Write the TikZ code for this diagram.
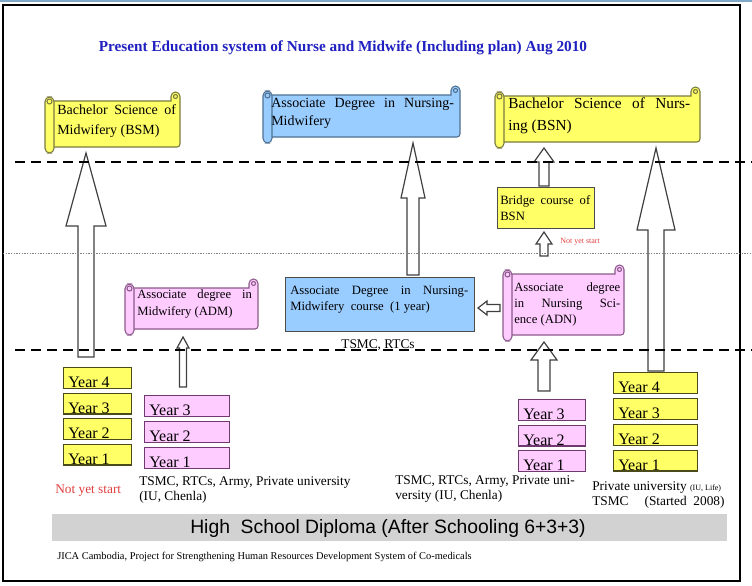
\documentclass[tikz,border=0pt]{standalone}
\usepackage{fontspec}
\setmainfont{Liberation Serif}
\newfontfamily\arialf{Liberation Sans}
\usetikzlibrary{calc}
\definecolor{yf}{HTML}{FFFF66}
\definecolor{yd}{HTML}{7A7A40}
\definecolor{yyd}{HTML}{4A4A1A}
\definecolor{bf}{HTML}{99CCFF}
\definecolor{bd}{HTML}{50708F}
\definecolor{pf}{HTML}{FFCCFF}
\definecolor{pd}{HTML}{8A5A8A}
\definecolor{ppd}{HTML}{703A70}
\definecolor{ttl}{HTML}{2020C0}
\definecolor{nys}{HTML}{E04040}
\definecolor{barg}{HTML}{D2D2D2}
\definecolor{topb}{HTML}{7FA7C7}
\newcommand\scrollshape[5]{%
  \path[#5] (#1+5,#2+9) -- (#3-9,#2+9) -- (#3-9,#2+4.5) arc[start angle=180,end angle=360,radius=4.5] -- (#3,#4-9) arc[start angle=0,end angle=90,radius=3] -- (#1+5,#4-6) -- cycle;
  \path[#5] (#3-4.5,#2+4.5) circle[radius=2];
  \path[#5, rounded corners=3.5pt] (#1,#2+5) rectangle (#1+9,#4);
  \path[#5] (#1+4.5,#2+9.5) circle[radius=2.5];
}
\newcommand\blockup[6]{%
  \path[blk] (#1-#6,#2) -- (#1-#6,#4) -- (#1-#5,#4) -- (#1,#3) -- (#1+#5,#4) -- (#1+#6,#4) -- (#1+#6,#2) -- cycle;
}
\begin{document}
\begin{tikzpicture}[x=0.75pt,y=-0.75pt]
\useasboundingbox (0,0) rectangle (752,585);
\tikzset{
  yscr/.style={fill=yf,draw=yd,line width=0.8pt},
  bscr/.style={fill=bf,draw=bd,line width=0.8pt},
  pscr/.style={fill=pf,draw=pd,line width=0.8pt},
  yyear/.style={fill=yf,draw=yyd,line width=1.1pt,minimum height=15.4pt,inner sep=0pt,anchor=north west},
  pyear/.style={fill=pf,draw=ppd,line width=1.1pt,minimum height=15.4pt,inner sep=0pt,anchor=north west},
  yrtxt/.style={anchor=base west,inner sep=0pt,font=\fontsize{12}{14}\selectfont},
  blk/.style={draw=black!75,fill=white,line width=0.9pt},
  sctxt/.style={anchor=north west,inner sep=0pt,align=left},
  dashln/.style={line width=2pt,dash pattern=on 7.5pt off 4.5pt},
  lbl/.style={inner sep=0pt,align=left,font=\fontsize{10}{11.25}\selectfont}
}
% frame
\draw[topb,line width=1.5pt] (0,1) -- (752,1);
\draw[black,line width=1.5pt] (3,5) rectangle (740,581);
% title
\node[font=\bfseries\fontsize{11.45}{13}\selectfont,text=ttl,inner sep=0pt] (title) at (343,48) {Present Education system of Nurse and Midwife (Including plan) Aug 2010};
% scrolls and boxes
\scrollshape{45}{92}{180}{153}{yscr}
\node[sctxt,font=\fontsize{10.5}{15}\selectfont] (bsm) at (57,104) {\makebox[89pt][s]{Bachelor Science of}\\Midwifery (BSM)};
\scrollshape{263}{86}{460}{143}{bscr}
\node[sctxt,font=\fontsize{10.5}{13.5}\selectfont] (adnmt) at (271,98) {\makebox[137pt][s]{Associate Degree in Nursing-}\\Midwifery};
\scrollshape{495}{87}{700}{148}{yscr}
\node[sctxt,font=\fontsize{11.5}{16.5}\selectfont] (bsn) at (508,97) {\makebox[136.5pt][s]{Bachelor Science of Nurs-}\\ing (BSN)};
\node[fill=yf,draw=black!70,line width=0.8pt,minimum width=72.75pt,minimum height=30.75pt,inner sep=0pt,anchor=north west] (bridge) at (497,187) {};
\node[sctxt,font=\fontsize{9.5}{12}\selectfont] (bridget) at (500,195) {\makebox[67.5pt][s]{Bridge course of}\\BSN};
\scrollshape{125}{279}{258}{335}{pscr}
\node[sctxt,font=\fontsize{9.5}{12.75}\selectfont] (adm) at (137,289) {\makebox[86pt][s]{Associate degree in}\\Midwifery (ADM)};
\node[fill=bf,draw=black!70,line width=0.8pt,minimum width=141.75pt,minimum height=40.5pt,inner sep=0pt,anchor=north west] (course) at (285,277) {};
\node[sctxt,font=\fontsize{9.5}{12}\selectfont] (coursetxt) at (290,286) {\makebox[133.5pt][s]{Associate Degree in Nursing-}\\Midwifery\ \ course\ \ (1 year)};
\scrollshape{503}{265}{624}{341}{pscr}
\node[sctxt,font=\fontsize{9.5}{12}\selectfont] (adn) at (514,282) {\makebox[79.5pt][s]{Associate degree}\\\makebox[79.5pt][s]{in Nursing Sci-}\\ence (ADN)};
% year boxes
\foreach \n/\yy in {4/367,3/392.5,2/418,1/443.5}{
  \node[yyear,minimum width=51pt] (ly\n) at (63,\yy) {};
  \node[yrtxt] at ($(ly\n.south west)+(5,-1.5)$) {Year \n};
}
\foreach \n/\yy in {3/395,2/421,1/447}{
  \node[pyear,minimum width=63.75pt] (lp\n) at (144,\yy) {};
  \node[yrtxt] at ($(lp\n.south west)+(5,-1.5)$) {Year \n};
}
\foreach \n/\yy in {3/399,2/424.5,1/450}{
  \node[pyear,minimum width=50.25pt] (rp\n) at (518,\yy) {};
  \node[yrtxt] at ($(rp\n.south west)+(5,-1.5)$) {Year \n};
}
\foreach \n/\yy in {4/372,3/398,2/424,1/449.5}{
  \node[yyear,minimum width=63pt] (ry\n) at (613,\yy) {};
  \node[yrtxt] at ($(ry\n.south west)+(5,-1.5)$) {Year \n};
}
% block arrows
\blockup{86}{357}{153}{226}{20}{8}
\blockup{413}{275}{143}{198}{12}{6}
\blockup{656}{371}{148}{230}{19}{8}
\blockup{544}{186}{148}{162}{10}{5}
\blockup{544}{256}{232}{244}{8}{4}
\blockup{183}{387}{337}{348}{6}{3.5}
\blockup{544}{391}{342}{360}{13}{6}
\path[blk] (500,304.5) -- (487,304.5) -- (487,301) -- (478,308) -- (487,315) -- (487,311.5) -- (500,311.5) -- cycle;
% level lines
\draw[dashln] (15,162) -- (752,162);
\draw[gray,line width=0.6pt,dash pattern=on 1pt off 1pt] (3,253) -- (752,253);
\draw[dashln] (15,350) -- (752,350);
% labels
\node[lbl,anchor=base] (tsmc) at (378,348) {TSMC, RTCs};
\node[inner sep=0pt,anchor=west,text=nys,font=\fontsize{6}{7}\selectfont] (nys2) at (560,242) {Not yet start};
\node[lbl,anchor=west,text=nys] (nys1) at (55,491) {Not yet start};
\node[lbl,anchor=north west] (src1) at (139,476) {TSMC, RTCs, Army, Private university\\(IU, Chenla)};
\node[lbl,anchor=north west] (src2) at (395,475) {TSMC, RTCs, Army, Private uni-\\versity (IU, Chenla)};
\node[lbl,anchor=north west] (src3) at (592,481) {Private university {\fontsize{6}{7}\selectfont (IU, Life)}\\TSMC\hspace{1.2em}(Started\ \ 2008)};
% bottom bar
\fill[barg] (52,514) rectangle (727,541);
\node[inner sep=0pt,font=\arialf\fontsize{14.5}{16}\selectfont] (hsd) at (388,528) {High\ \ School Diploma (After Schooling 6+3+3)};
\node[inner sep=0pt,anchor=west,font=\fontsize{7.8}{9}\selectfont] (jica) at (57,557) {JICA Cambodia, Project for Strengthening Human Resources Development System of Co-medicals};
\end{tikzpicture}
\end{document}
